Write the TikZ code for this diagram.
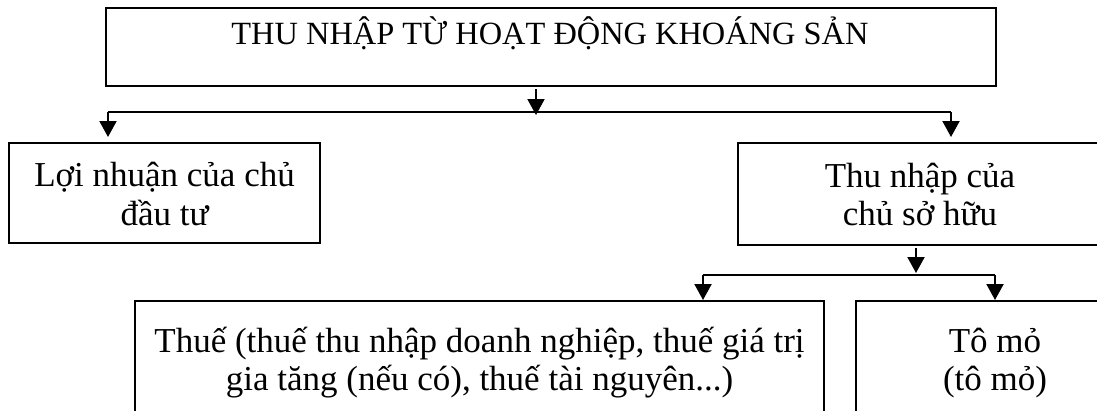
\documentclass[tikz,border=0pt]{standalone}
\usepackage{fontspec}
\setmainfont{Liberation Serif}
\usetikzlibrary{arrows.meta}
\begin{document}
\begin{tikzpicture}[x=1pt,y=1pt, line width=2pt,
  box/.style={draw, line width=2pt, inner sep=0pt, outer sep=0pt, anchor=north west},
  txt/.style={font=\fontsize{35}{39}\selectfont, anchor=base, inner sep=0pt},
  ttl/.style={font=\fontsize{32.4}{37}\selectfont, anchor=base, inner sep=0pt},
  arr/.style={-{Triangle[width=17pt,length=16pt]}, line width=2pt}]
\useasboundingbox (0,0) rectangle (1097,-410);
\fill[white] (0,0) rectangle (1097,-410);
\clip (0,0) rectangle (1097,-410);
% boxes
\node[box, minimum width=890pt, minimum height=78pt]  (top)  at (106,-8) {};
\node[box, minimum width=311pt, minimum height=100pt] (lp)   at (9,-143) {};
\node[box, minimum width=372pt, minimum height=102pt] (own)  at (738,-143) {};
\node[box, minimum width=689pt, minimum height=130pt] (tax)  at (135,-301) {};
\node[box, minimum width=278pt, minimum height=130pt] (rent) at (856,-301) {};
% texts
\node[ttl] (toptxt) at (550,-44) {THU NHẬP TỪ HOẠT ĐỘNG KHOÁNG SẢN};
\node[txt] (lp1) at (164.5,-186) {Lợi nhuận của chủ};
\node[txt] (lp2) at (164.5,-225) {đầu tư};
\node[txt] (own1) at (920,-187) {Thu nhập của};
\node[txt] (own2) at (920,-225) {chủ sở hữu};
\node[txt] (tax1) at (479.5,-352) {Thuế (thuế thu nhập doanh nghiệp, thuế giá trị};
\node[txt] (tax2) at (479.5,-390) {gia tăng (nếu có), thuế tài nguyên...)};
\node[txt] (rent1) at (995,-352) {Tô mỏ};
\node[txt] (rent2) at (995,-390) {(tô mỏ)};
% bus 1
\coordinate (b1)  at (536,-112);
\coordinate (b1l) at (108,-112);
\coordinate (b1r) at (951,-112);
\draw[arr, shorten <=3pt] (top.south -| b1) -- ([yshift=-3pt]b1);
\draw (b1l) -- (b1r);
\draw[arr, shorten >=6pt] (b1l) -- (lp.north -| b1l);
\draw[arr, shorten >=6pt] (b1r) -- (own.north -| b1r);
% bus 2
\coordinate (b2)  at (916,-275);
\coordinate (b2l) at (703,-275);
\coordinate (b2r) at (995,-275);
\draw[arr, shorten <=3pt] (own.south -| b2) -- ([yshift=2pt]b2);
\draw (b2l) -- (b2r);
\draw[arr, shorten >=1pt] (b2l) -- (tax.north -| b2l);
\draw[arr, shorten >=1pt] (b2r) -- (rent.north -| b2r);
\end{tikzpicture}
\end{document}
